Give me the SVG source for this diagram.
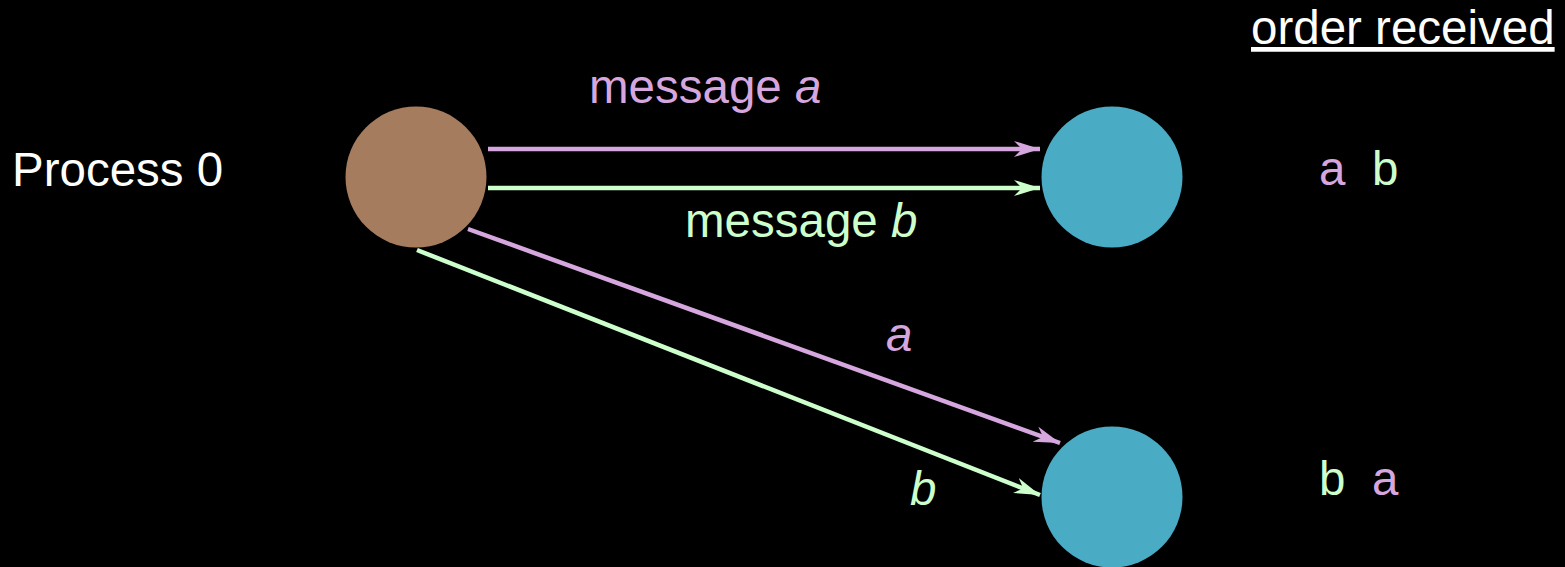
<svg xmlns="http://www.w3.org/2000/svg" width="1565" height="567" viewBox="0 0 1565 567">
<style>
text{font-family:"Liberation Sans",Arial,sans-serif;font-size:47.5px}
.w{fill:#ffffff}
.p{fill:#d6a7de}
.g{fill:#ccffcc}
.i{font-style:italic}
.lp{stroke:#d6a7de;stroke-width:4.5;fill:none}
.lg{stroke:#ccffcc;stroke-width:4.5;fill:none}
</style>
<defs>
<marker id="ap" viewBox="0 0 26 16" refX="26" refY="8" markerWidth="26" markerHeight="16" markerUnits="userSpaceOnUse" orient="auto">
<path d="M0,0 L26,8 L0,16 L8,8 Z" fill="#d6a7de"/>
</marker>
<marker id="ag" viewBox="0 0 26 16" refX="26" refY="8" markerWidth="26" markerHeight="16" markerUnits="userSpaceOnUse" orient="auto">
<path d="M0,0 L26,8 L0,16 L8,8 Z" fill="#ccffcc"/>
</marker>
</defs>
<rect width="1565" height="567" fill="#000000"/>
<g id="connectors">
<line class="lp" x1="488" y1="149" x2="1040" y2="149" marker-end="url(#ap)"/>
<line class="lg" x1="488" y1="188" x2="1040" y2="188" marker-end="url(#ag)"/>
<line class="lp" x1="468" y1="229" x2="1060" y2="443" marker-end="url(#ap)"/>
<line class="lg" x1="417" y1="250" x2="1040" y2="495" marker-end="url(#ag)"/>
</g>
<g id="process0">
<circle cx="416" cy="177" r="70.5" fill="#a67c5f"/>
</g>
<g id="receiver1">
<circle cx="1112" cy="177" r="70.5" fill="#4aabc5"/>
</g>
<g id="receiver2">
<circle cx="1112" cy="497" r="70.5" fill="#4aabc5"/>
</g>
<g id="labels">
<text class="w" x="12" y="186">Process 0</text>
<text class="p" x="589" y="103">message <tspan class="i">a</tspan></text>
<text class="g" x="685" y="237">message <tspan class="i">b</tspan></text>
<text class="p i" x="886" y="351">a</text>
<text class="g i" x="910" y="505">b</text>
<text class="w" x="1251" y="44" text-decoration="underline">order received</text>
<text x="1319" y="185"><tspan class="p">a</tspan><tspan class="g" x="1372">b</tspan></text>
<text x="1319" y="495"><tspan class="g">b</tspan><tspan class="p" x="1372">a</tspan></text>
</g>
</svg>
